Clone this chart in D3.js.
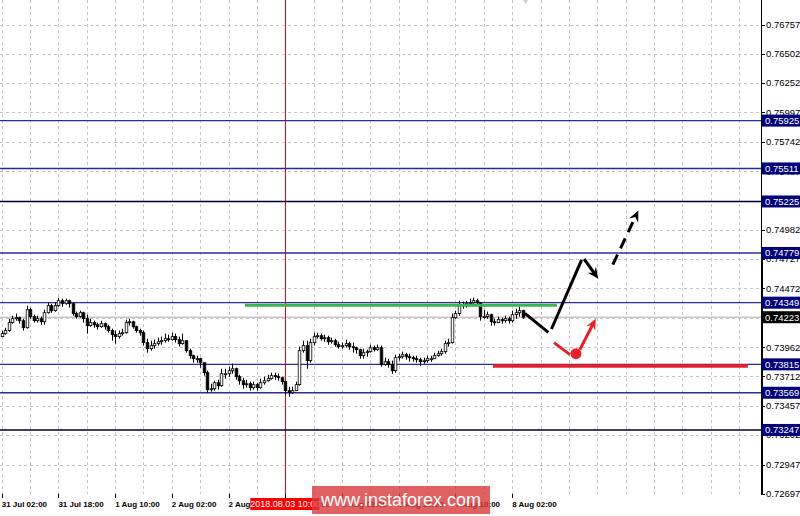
<!DOCTYPE html>
<html>
<head>
<meta charset="utf-8">
<script src="https://cdn.jsdelivr.net/npm/d3@7/dist/d3.min.js"></script>
<style>
  body { margin: 0; background: #fff; }
  svg { display: block; font-family: "Liberation Sans", Arial, sans-serif; }
</style>
</head>
<body>
<svg id="chart" width="800" height="516"></svg>
<script>
// H1 bars, index 0 = 31 Jul 02:00 ... index 147 = 8 Aug (last bar)
var closes = [
  0.74081, 0.74107, 0.74176, 0.74210, 0.74219, 0.74193, 0.74132, 0.74288, 0.74228, 0.74193,
  0.74210, 0.74184, 0.74262, 0.74323, 0.74280, 0.74323, 0.74366, 0.74340, 0.74366, 0.74340,
  0.74254, 0.74228, 0.74262, 0.74210, 0.74150, 0.74176, 0.74158, 0.74141, 0.74167, 0.74141,
  0.74107, 0.74072, 0.74055, 0.74081, 0.74089, 0.74176, 0.74184, 0.74141, 0.74107, 0.74089,
  0.74003, 0.73951, 0.73977, 0.73994, 0.74011, 0.74020, 0.74037, 0.74029, 0.74055, 0.74029,
  0.73994, 0.74020, 0.73933, 0.73890, 0.73864, 0.73864, 0.73829, 0.73743, 0.73595, 0.73604,
  0.73656, 0.73630, 0.73734, 0.73734, 0.73760, 0.73777, 0.73708, 0.73673, 0.73639, 0.73647,
  0.73613, 0.73639, 0.73613, 0.73656, 0.73673, 0.73691, 0.73717, 0.73708, 0.73699, 0.73665,
  0.73587, 0.73569, 0.73587, 0.73639, 0.73933, 0.73977, 0.73847, 0.74003, 0.74055, 0.74063,
  0.74037, 0.74046, 0.74011, 0.74020, 0.73985, 0.73968, 0.73977, 0.73994, 0.73968, 0.73959,
  0.73942, 0.73890, 0.73916, 0.73925, 0.73959, 0.73942, 0.73959, 0.73812, 0.73838, 0.73812,
  0.73760, 0.73873, 0.73881, 0.73899, 0.73881, 0.73873, 0.73864, 0.73855, 0.73838, 0.73847,
  0.73864, 0.73864, 0.73890, 0.73907, 0.73925, 0.73994, 0.74003, 0.74219, 0.74254, 0.74332,
  0.74323, 0.74340, 0.74349, 0.74366, 0.74349, 0.74228, 0.74228, 0.74245, 0.74184, 0.74176,
  0.74202, 0.74193, 0.74210, 0.74193, 0.74245, 0.74262, 0.74280, 0.74223
];
var highs = [
  0.74107, 0.74132, 0.74210, 0.74236, 0.74254, 0.74228, 0.74210, 0.74323, 0.74306, 0.74245,
  0.74236, 0.74228, 0.74288, 0.74349, 0.74340, 0.74349, 0.74392, 0.74384, 0.74384, 0.74375,
  0.74349, 0.74271, 0.74280, 0.74271, 0.74245, 0.74210, 0.74193, 0.74176, 0.74193, 0.74176,
  0.74158, 0.74124, 0.74107, 0.74107, 0.74124, 0.74202, 0.74210, 0.74193, 0.74150, 0.74124,
  0.74107, 0.74037, 0.74020, 0.74029, 0.74046, 0.74055, 0.74081, 0.74072, 0.74089, 0.74081,
  0.74055, 0.74081, 0.74020, 0.73951, 0.73899, 0.73890, 0.73873, 0.73829, 0.73760, 0.73647,
  0.73673, 0.73682, 0.73777, 0.73777, 0.73795, 0.73821, 0.73786, 0.73725, 0.73699, 0.73682,
  0.73665, 0.73665, 0.73656, 0.73691, 0.73708, 0.73725, 0.73743, 0.73743, 0.73734, 0.73708,
  0.73673, 0.73621, 0.73621, 0.73665, 0.73968, 0.74020, 0.74020, 0.74037, 0.74089, 0.74089,
  0.74081, 0.74072, 0.74063, 0.74046, 0.74037, 0.74011, 0.74003, 0.74029, 0.74011, 0.74003,
  0.73968, 0.73951, 0.73951, 0.73942, 0.73985, 0.73977, 0.73985, 0.73977, 0.73873, 0.73864,
  0.73847, 0.73899, 0.73907, 0.73925, 0.73916, 0.73907, 0.73890, 0.73890, 0.73873, 0.73873,
  0.73890, 0.73890, 0.73916, 0.73933, 0.73951, 0.74020, 0.74037, 0.74254, 0.74280, 0.74366,
  0.74358, 0.74366, 0.74384, 0.74392, 0.74384, 0.74349, 0.74288, 0.74271, 0.74254, 0.74210,
  0.74228, 0.74219, 0.74236, 0.74228, 0.74280, 0.74297, 0.74314, 0.74288
];
var lows = [
  0.74055, 0.74072, 0.74098, 0.74167, 0.74193, 0.74167, 0.74107, 0.74124, 0.74210, 0.74176,
  0.74176, 0.74158, 0.74158, 0.74254, 0.74262, 0.74271, 0.74314, 0.74314, 0.74332, 0.74306,
  0.74236, 0.74210, 0.74219, 0.74176, 0.74081, 0.74141, 0.74132, 0.74115, 0.74132, 0.74115,
  0.74089, 0.74020, 0.73994, 0.74037, 0.74063, 0.74081, 0.74150, 0.74124, 0.74089, 0.74063,
  0.73977, 0.73916, 0.73933, 0.73951, 0.73977, 0.73985, 0.74003, 0.74011, 0.74020, 0.74003,
  0.73968, 0.73985, 0.73916, 0.73864, 0.73829, 0.73829, 0.73786, 0.73717, 0.73569, 0.73578,
  0.73587, 0.73595, 0.73621, 0.73691, 0.73708, 0.73734, 0.73682, 0.73639, 0.73604, 0.73613,
  0.73587, 0.73595, 0.73587, 0.73604, 0.73639, 0.73665, 0.73682, 0.73682, 0.73673, 0.73639,
  0.73552, 0.73534, 0.73560, 0.73587, 0.73630, 0.73916, 0.73777, 0.73829, 0.73977, 0.74037,
  0.74020, 0.74011, 0.73985, 0.73994, 0.73968, 0.73951, 0.73951, 0.73959, 0.73942, 0.73916,
  0.73907, 0.73864, 0.73864, 0.73881, 0.73916, 0.73925, 0.73933, 0.73795, 0.73803, 0.73786,
  0.73734, 0.73743, 0.73847, 0.73864, 0.73855, 0.73838, 0.73838, 0.73829, 0.73803, 0.73821,
  0.73829, 0.73838, 0.73864, 0.73881, 0.73890, 0.73907, 0.73968, 0.73994, 0.74210, 0.74236,
  0.74297, 0.74306, 0.74323, 0.74332, 0.74323, 0.74193, 0.74210, 0.74210, 0.74150, 0.74150,
  0.74176, 0.74167, 0.74176, 0.74167, 0.74176, 0.74210, 0.74228, 0.74210
];
var firstOpen = 0.74055;   // open of bar 0, every other open is the previous close

var priceTicks = [0.76757, 0.76502, 0.76252, 0.75997, 0.75742, 0.75487, 0.75232, 0.74982,
  0.74727, 0.74472, 0.74217, 0.73962, 0.73712, 0.73457, 0.73202, 0.72947, 0.72697];
var timeLabels = ["31 Jul 02:00", "31 Jul 18:00", "1 Aug 10:00", "2 Aug 02:00", "2 Aug 18:00",
  "3 Aug 10:00", "6 Aug 02:00", "6 Aug 18:00", "7 Aug 10:00", "8 Aug 02:00"];
var timeLabelBars = [0, 16, 32, 48, 64, 80, 96, 112, 128, 144];

var levels = [0.75925, 0.75511, 0.75225, 0.74779, 0.74349, 0.73815, 0.73569, 0.73247];
var darkLevels = [0.75225, 0.73247];
var lastPrice = 0.74223;
var markerBar = 80, markerLabel = "2018.08.03 10:00";

// drawn objects, points are [bar, price]
var greenLine = [[68.6, 0.74327], [156.6, 0.74327]];
var redLine = [[138.6, 0.73800], [210.5, 0.73800]];
var blackDown = [[147.6, 0.74256], [154.2, 0.74092]];
var blackUp = [[155.1, 0.74121], [163.6, 0.74719]];
var blackArrow = [[164.3, 0.74727], [168.3, 0.74557]];
var blackDashArrow = [[172.4, 0.74678], [179.6, 0.75146]];
var redStroke = [[155.8, 0.74003], [160.3, 0.73899]];
var redDot = [162, 0.73907];
var redArrow = [[163.1, 0.73942], [167.6, 0.74210]];
var topMark = [147.8, 0.77000];   // grey object cut off at the top edge

var svg = d3.select("#chart");
var plotR = 761, plotB = 494;

var x = d3.scaleLinear().domain([-0.48, 214.2]).range([0, plotR]);
var y = d3.scaleLinear().domain([0.72697, 0.76757]).range([493.5, 24.5]);

var bars = closes.map(function(c, i) {
  return { i: i, o: i === 0 ? firstOpen : closes[i - 1], h: highs[i], l: lows[i], c: c };
});

svg.append("defs").append("clipPath").attr("id", "plot")
  .append("rect").attr("x", 0).attr("y", 0).attr("width", plotR).attr("height", plotB);

var plot = svg.append("g").attr("clip-path", "url(#plot)");

// grid
plot.selectAll("line.vgrid")
  .data(d3.range(0, 215, 8))
  .enter().append("line")
  .attr("x1", function(d) { return Math.round(x(d)) + 0.5; })
  .attr("x2", function(d) { return Math.round(x(d)) + 0.5; })
  .attr("y1", 0).attr("y2", plotB)
  .attr("stroke", "#c4c4c4").attr("stroke-dasharray", "3,3");

plot.selectAll("line.hgrid")
  .data(priceTicks)
  .enter().append("line")
  .attr("x1", 0).attr("x2", plotR)
  .attr("y1", function(d) { return Math.round(y(d)) + 0.5; })
  .attr("y2", function(d) { return Math.round(y(d)) + 0.5; })
  .attr("stroke", "#c4c4c4").attr("stroke-dasharray", "3,3");

// bid line
plot.append("line")
  .attr("x1", 0).attr("x2", plotR)
  .attr("y1", y(lastPrice)).attr("y2", y(lastPrice))
  .attr("stroke", "#c8c8c8").attr("stroke-width", 1.5);

// vertical marker
plot.append("line")
  .attr("x1", Math.round(x(markerBar)) + 0.5).attr("x2", Math.round(x(markerBar)) + 0.5)
  .attr("y1", 0).attr("y2", plotB)
  .attr("stroke", "#ff0000").attr("stroke-width", 1);

// grey object at the top edge
plot.append("path")
  .attr("d", d3.symbol().type(d3.symbolDiamond).size(70)())
  .attr("transform", "translate(" + x(topMark[0]) + "," + y(topMark[1]) + ")")
  .attr("fill", "#d0d0d0");

// level lines
plot.selectAll("line.level")
  .data(levels)
  .enter().append("line")
  .attr("x1", 0).attr("x2", plotR)
  .attr("y1", function(d) { return y(d); })
  .attr("y2", function(d) { return y(d); })
  .attr("stroke", function(d) { return darkLevels.indexOf(d) >= 0 ? "#000033" : "#2b2b9c"; })
  .attr("stroke-width", 1.4);

// candles
var candle = plot.selectAll("g.candle")
  .data(bars)
  .enter().append("g");

candle.append("line")
  .attr("x1", function(d) { return Math.round(x(d.i)) + 0.5; })
  .attr("x2", function(d) { return Math.round(x(d.i)) + 0.5; })
  .attr("y1", function(d) { return y(d.h); })
  .attr("y2", function(d) { return y(d.l); })
  .attr("stroke", "#000");

candle.append("rect")
  .attr("x", function(d) { return Math.round(x(d.i)) - 0.8; })
  .attr("width", 2.6)
  .attr("y", function(d) { return y(Math.max(d.o, d.c)); })
  .attr("height", function(d) { return Math.max(1, Math.abs(y(d.o) - y(d.c))); })
  .attr("fill", function(d) { return d.c >= d.o ? "#fff" : "#000"; })
  .attr("stroke", "#000").attr("stroke-width", 0.8);

// drawn support / resistance strokes
var line = d3.line()
  .x(function(d) { return x(d[0]); })
  .y(function(d) { return y(d[1]); });

plot.append("path").attr("d", line(greenLine))
  .attr("stroke", "#3cb44b").attr("stroke-width", 3).attr("fill", "none");
plot.append("path").attr("d", line(redLine))
  .attr("stroke", "#e8202a").attr("stroke-width", 3.5).attr("fill", "none");

function arrowHead(g, pts, color) {
  var a = pts[pts.length - 2], b = pts[pts.length - 1];
  var x0 = x(a[0]), y0 = y(a[1]), x1 = x(b[0]), y1 = y(b[1]);
  var ang = Math.atan2(y1 - y0, x1 - x0);
  var len = 11, wid = 5;
  var bx = x1 - len * Math.cos(ang), by = y1 - len * Math.sin(ang);
  var p = [
    [x1, y1],
    [bx + wid * Math.sin(ang), by - wid * Math.cos(ang)],
    [bx + 0.35 * len * Math.cos(ang), by + 0.35 * len * Math.sin(ang)],
    [bx - wid * Math.sin(ang), by + wid * Math.cos(ang)]
  ];
  g.append("path").attr("d", "M" + p.join("L") + "Z").attr("fill", color);
}

function shortened(pts, cut) {
  var a = pts[0], b = pts[1];
  var dx = x(b[0]) - x(a[0]), dy = y(b[1]) - y(a[1]);
  var L = Math.sqrt(dx * dx + dy * dy), k = (L - cut) / L;
  return "M" + x(a[0]) + "," + y(a[1]) + "L" + (x(a[0]) + dx * k) + "," + (y(a[1]) + dy * k);
}

plot.append("path").attr("d", line(blackDown))
  .attr("stroke", "#000").attr("stroke-width", 3).attr("fill", "none");
plot.append("path").attr("d", line(blackUp))
  .attr("stroke", "#000").attr("stroke-width", 3).attr("fill", "none");

plot.append("path").attr("d", shortened(blackArrow, 6))
  .attr("stroke", "#000").attr("stroke-width", 3).attr("fill", "none");
arrowHead(plot, blackArrow, "#000");

plot.append("path").attr("d", shortened(blackDashArrow, 6))
  .attr("stroke", "#000").attr("stroke-width", 3).attr("fill", "none")
  .attr("stroke-dasharray", "11,7");
arrowHead(plot, blackDashArrow, "#000");

plot.append("path").attr("d", line(redStroke))
  .attr("stroke", "#e8202a").attr("stroke-width", 3).attr("fill", "none");
plot.append("circle")
  .attr("cx", x(redDot[0])).attr("cy", y(redDot[1])).attr("r", 5.5)
  .attr("fill", "#e8202a");
plot.append("path").attr("d", shortened(redArrow, 6))
  .attr("stroke", "#e8202a").attr("stroke-width", 3).attr("fill", "none");
arrowHead(plot, redArrow, "#e8202a");

// right price axis
svg.append("line")
  .attr("x1", plotR + 0.5).attr("x2", plotR + 0.5)
  .attr("y1", 0).attr("y2", plotB + 1)
  .attr("stroke", "#000");
svg.append("line")
  .attr("x1", plotR + 1).attr("x2", plotR + 1)
  .attr("y1", 260).attr("y2", plotB + 1)
  .attr("stroke", "#000").attr("stroke-width", 2);

var pt = svg.selectAll("g.ptick")
  .data(priceTicks)
  .enter().append("g");
pt.append("line")
  .attr("x1", plotR).attr("x2", plotR + 4)
  .attr("y1", function(d) { return Math.round(y(d)) + 0.5; })
  .attr("y2", function(d) { return Math.round(y(d)) + 0.5; })
  .attr("stroke", "#000");
pt.append("text")
  .attr("x", plotR + 5)
  .attr("y", function(d) { return y(d); })
  .attr("dy", "0.35em")
  .attr("font-size", 9.5)
  .attr("fill", "#000")
  .text(function(d) { return d.toFixed(5); });

var lv = svg.selectAll("g.lvlabel")
  .data(levels)
  .enter().append("g");
lv.append("rect")
  .attr("x", plotR + 1).attr("width", 38)
  .attr("y", function(d) { return y(d) - 6; })
  .attr("height", 12)
  .attr("fill", "#00007a");
lv.append("text")
  .attr("x", plotR + 4)
  .attr("y", function(d) { return y(d); })
  .attr("dy", "0.35em")
  .attr("font-size", 9.5)
  .attr("fill", "#fff")
  .text(function(d) { return d.toFixed(5); });

svg.append("rect")
  .attr("x", plotR + 1).attr("width", 38)
  .attr("y", y(lastPrice) - 6).attr("height", 12)
  .attr("fill", "#000");
svg.append("text")
  .attr("x", plotR + 4).attr("y", y(lastPrice)).attr("dy", "0.35em")
  .attr("font-size", 9.5).attr("fill", "#fff")
  .text(lastPrice.toFixed(5));

// bottom time axis
var tt = svg.selectAll("g.ttick")
  .data(timeLabelBars)
  .enter().append("g");
tt.append("line")
  .attr("x1", function(d) { return Math.round(x(d)) + 0.5; })
  .attr("x2", function(d) { return Math.round(x(d)) + 0.5; })
  .attr("y1", plotB).attr("y2", plotB + 4)
  .attr("stroke", "#000");
tt.append("text")
  .attr("x", function(d) { return x(d); })
  .attr("y", plotB + 13)
  .attr("font-size", 8)
  .attr("font-weight", "bold")
  .attr("fill", "#000")
  .text(function(d, i) { return timeLabels[i]; });

// marker time label
var mx = x(markerBar);
svg.append("rect")
  .attr("x", mx - 35).attr("y", plotB + 4).attr("width", 69).attr("height", 12)
  .attr("fill", "#ff0000");
svg.append("text")
  .attr("x", mx).attr("y", plotB + 13)
  .attr("text-anchor", "middle")
  .attr("font-size", 9).attr("fill", "#fff")
  .text(markerLabel);

// watermark
svg.append("rect")
  .attr("x", 312).attr("y", 486).attr("width", 178).attr("height", 28)
  .attr("fill", "#d83a3a").attr("fill-opacity", 0.8);
svg.append("text")
  .attr("x", 401).attr("y", 506)
  .attr("text-anchor", "middle")
  .attr("font-size", 18).attr("fill", "#fff")
  .text("www.instaforex.com");
</script>
</body>
</html>
